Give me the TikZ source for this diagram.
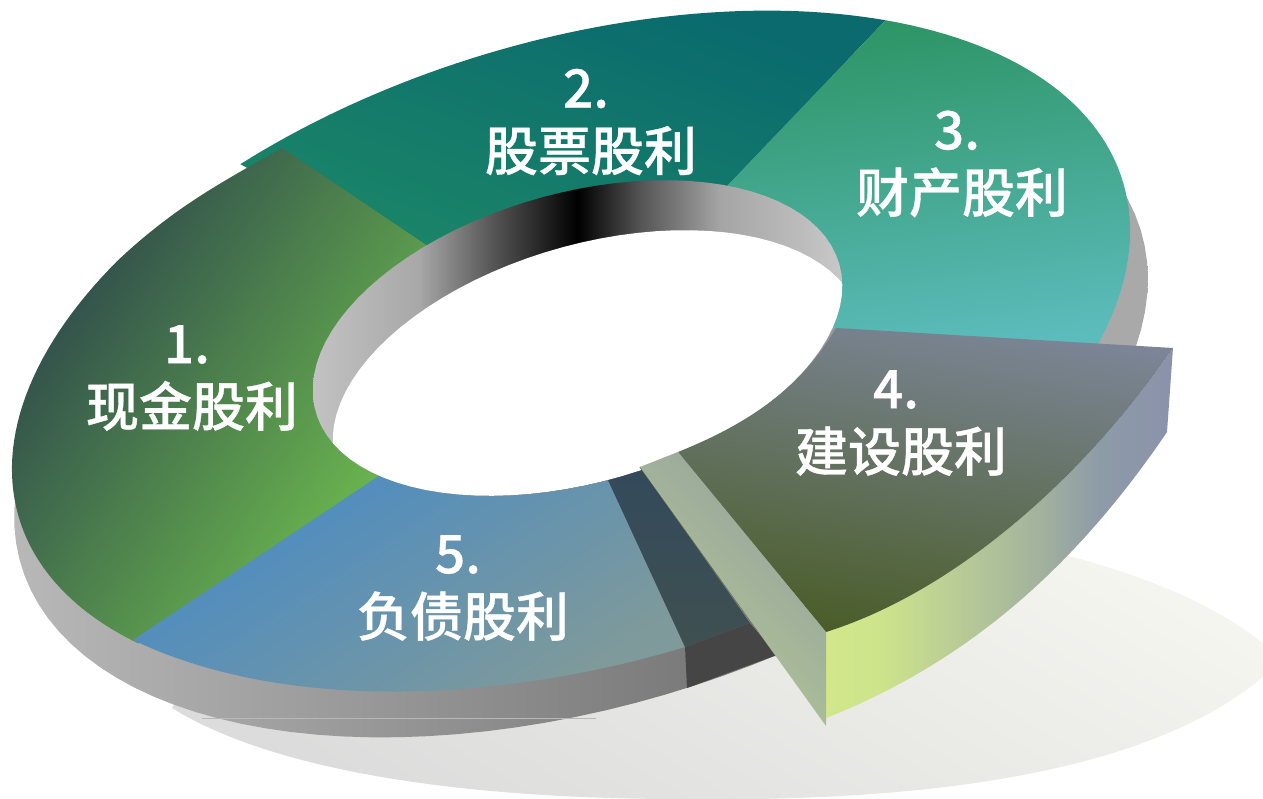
\documentclass[tikz,border=0pt]{standalone}
\usepackage{fontspec}
\setmainfont[FakeBold=0.7]{Noto Sans CJK SC Medium}
\definecolor{wallA}{HTML}{B8B8B8}
\definecolor{wallB}{HTML}{959595}
\definecolor{wallC}{HTML}{7A7A7A}
\definecolor{wallD}{HTML}{A9A9A9}
\definecolor{rimA}{HTML}{C2C2C2}
\definecolor{rimB}{HTML}{A8A8A8}
\definecolor{rimC}{HTML}{555555}
\definecolor{rimD}{HTML}{A5A5A5}
\definecolor{rimE}{HTML}{C8C8C8}
\definecolor{HTMLg1a}{HTML}{2E4A4C}
\definecolor{HTMLg1b}{HTML}{81DD4F}
\definecolor{HTMLg2a}{HTML}{1F8C66}
\definecolor{HTMLg2b}{HTML}{0A6A6E}
\definecolor{HTMLg3a}{HTML}{2A9260}
\definecolor{HTMLg3b}{HTML}{5CBCBC}
\definecolor{HTMLg5a}{HTML}{3A87D0}
\definecolor{HTMLg5b}{HTML}{7F9A9A}
\definecolor{HTMLd5a}{HTML}{334A5C}
\definecolor{HTMLd5b}{HTML}{3F5050}
\definecolor{HTMLd5w}{HTML}{454545}
\definecolor{HTMLt4a}{HTML}{7B8596}
\definecolor{HTMLt4b}{HTML}{4A5D28}
\definecolor{HTMLf4a}{HTML}{B4CC94}
\definecolor{HTMLf4b}{HTML}{96A09E}
\definecolor{HTMLedge}{HTML}{566548}
\definecolor{sidA}{HTML}{D2E78A}
\definecolor{sidB}{HTML}{CDE48B}
\definecolor{sidC}{HTML}{B8CB96}
\definecolor{sidD}{HTML}{A2B29E}
\definecolor{sidE}{HTML}{8D9BA8}
\definecolor{sidF}{HTML}{8B92AA}
\definecolor{shadA}{HTML}{DCDCDC}
\definecolor{shadB}{HTML}{F5F6EF}
\pgfdeclarehorizontalshading{wallshade}{100bp}{color(0bp)=(wallA); color(25bp)=(wallA); color(42bp)=(wallB); color(55bp)=(wallC); color(60bp)=(wallB); color(68bp)=(wallD); color(75bp)=(wallD); color(100bp)=(wallD)}
\pgfdeclarehorizontalshading{rimshade}{100bp}{color(0bp)=(rimA); color(25bp)=(rimA); color(35bp)=(rimB); color(42bp)=(rimC); color(50bp)=(black); color(56bp)=(rimC); color(63.5bp)=(rimD); color(75bp)=(rimE); color(100bp)=(rimE)}
\pgfdeclarehorizontalshading{sideshade}{100bp}{color(0bp)=(sidA); color(25bp)=(sidA); color(32.8bp)=(sidB); color(44.3bp)=(sidC); color(55.8bp)=(sidD); color(64.5bp)=(sidE); color(75bp)=(sidF); color(100bp)=(sidF)}
% outer rim of the top face
\newcommand\outerarc[2]{plot[domain=#1:#2,samples=50,variable=\t] ({571+551.8*cos(\t)+90*sin(\t)},{350-168.7*cos(\t)+294.5*sin(\t)})}
\tikzset{
  lab/.style={text=white,align=center,font=\fontsize{53}{63}\selectfont,inner sep=0pt},
}
\newcommand\numgap{\hspace*{10pt}}
\begin{document}
\begin{tikzpicture}[x=1pt,y=-1pt]
\useasboundingbox (0,0) rectangle (1263,799);
% ground shadow
\shade[left color=shadA,right color=shadB,shading angle=150]
  (172,708) .. controls (280,775) and (480,799) .. (680,799)
  .. controls (900,802) and (1140,780) .. (1263,677) -- (1263,643)
  .. controls (1215,605) and (1150,578) .. (1073,557) -- (800,500) -- (300,500) -- cycle;
% outer wall
\shade[shading=wallshade]
  plot[domain=0:360,samples=120,variable=\t] ({581+559.5*cos(\t)+91.3*sin(\t)},{398-168.7*cos(\t)+294.5*sin(\t)}) -- cycle;
\coordinate (lineA) at (202,718);
\coordinate (lineB) at (596,718);
\draw[white!72!black,line width=1pt] (lineA) -- (lineB);
% coordinates of the top faces
\coordinate (mid) at (575,345);
\coordinate (corner12) at (282,148);
\coordinate (notch) at (245,169);
\coordinate (s3in) at (820,327);
\coordinate (s5a) at (133,640);
\coordinate (s5b) at (685,647);
\coordinate (s5c) at (607,478);
\coordinate (s5d) at (640,467);
\coordinate (s5e) at (750,623);
\coordinate (w1) at (687,688);
\coordinate (w2) at (777,655);
% sector 2
\shade[left color=HTMLg2a,right color=HTMLg2b,shading angle=160]
  \outerarc{243}{313.5} -- (mid) -- cycle;
% sector 3
\shade[top color=HTMLg3a,bottom color=HTMLg3b,shading angle=8]
  \outerarc{313.5}{390} -- (s3in) -- (mid) -- cycle;
% sector 1
\shade[left color=HTMLg1a,right color=HTMLg1b,shading angle=56]
  \outerarc{150}{225} .. controls (165,216) and (205,192) .. (notch) -- (corner12) -- (mid) -- cycle;
% sector 5
\shade[left color=HTMLg5a,right color=HTMLg5b,shading angle=33]
  (s5a) .. controls (290,715) and (510,700) .. (s5b) -- (s5c) -- (mid) -- cycle;
\shade[top color=HTMLd5a,bottom color=HTMLd5b]
  (s5c) -- (s5d) -- (s5e) -- (s5b) -- cycle;
\fill[HTMLd5w] (s5b) -- (s5e) -- (w2) -- (w1) -- cycle;
% inner wall and hole
\begin{scope}
  \clip plot[domain=0:360,samples=90,variable=\t] ({577.5+261.9*cos(\t)+39.2*sin(\t)},{338-73.6*cos(\t)+139.6*sin(\t)}) -- cycle;
  \shade[shading=rimshade] (313,170) rectangle (842,500);
  \fill[white] plot[domain=0:360,samples=90,variable=\t] ({597.5+261.9*cos(\t)+39.2*sin(\t)},{388-73.6*cos(\t)+139.6*sin(\t)}) -- cycle;
\end{scope}
% exploded sector 4
\coordinate (p1) at (836,328);
\coordinate (p2) at (1173,348);
\coordinate (p3) at (1167,432);
\coordinate (p4) at (826,718);
\coordinate (p5) at (826,632);
\coordinate (p6) at (678,452);
\coordinate (p7) at (640,467);
\coordinate (p8) at (826,726);
\coordinate (p9) at (776,656);
\shade[shading=sideshade]
  (p5) .. controls (960,590) and (1090,470) .. (p2) -- (p3) .. controls (1070,575) and (960,665) .. (p4) -- cycle;
\shade[top color=HTMLt4a,bottom color=HTMLt4b,shading angle=-10]
  (p1) -- (p2) .. controls (1090,470) and (960,590) .. (p5) -- (p6) .. controls (745,425) and (800,390) .. (p1) -- cycle;
\draw[HTMLedge,line width=1.2pt] (p7) -- (p9);
\shade[left color=HTMLf4a,right color=HTMLf4b,shading angle=135]
  (p7) -- (p6) -- (p5) -- (p8) -- cycle;
% labels
\node[lab] (one) at (192,378) {1.\numgap\\现金股利};
\node[lab] (two) at (591,122) {2.\numgap\\股票股利};
\node[lab] (three) at (962,164) {3.\numgap\\财产股利};
\node[lab] (four) at (901,423) {4.\numgap\\建设股利};
\node[lab] (five) at (463,588) {5.\numgap\\负债股利};
\end{tikzpicture}
\end{document}
